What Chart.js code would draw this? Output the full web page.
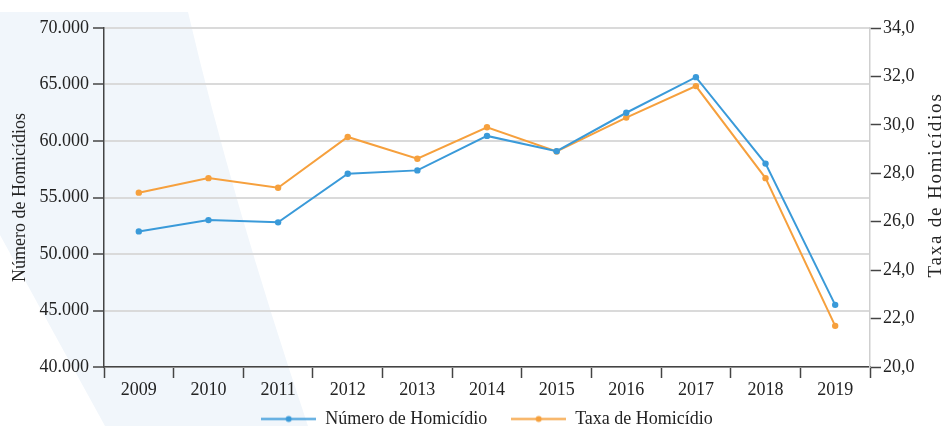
<!DOCTYPE html>
<html lang="pt-BR">
<head>
<meta charset="utf-8">
<title>Homicídios 2009-2019</title>
<script src="https://cdn.jsdelivr.net/npm/chart.js@4.4.1/dist/chart.umd.min.js"></script>
<style>
  html, body { margin: 0; padding: 0; background: #fff; overflow: hidden; }
  #wrap { width: 944px; height: 426px; }
</style>
</head>
<body>
<div id="wrap"><canvas id="homicidios" width="944" height="426"></canvas></div>
<script>
/* Número e taxa de homicídios por ano, dois eixos */

const anos = ["2009", "2010", "2011", "2012", "2013", "2014", "2015", "2016", "2017", "2018", "2019"];
const numeroHomicidios = [52000, 53000, 52800, 57100, 57400, 60450, 59100, 62500, 65650, 58000, 45500];
const taxaHomicidios = [27.2, 27.8, 27.4, 29.5, 28.6, 29.9, 28.9, 30.3, 31.6, 27.8, 21.7];

const ticksNumero = [40000, 45000, 50000, 55000, 60000, 65000, 70000];
const ticksTaxa = [20, 22, 24, 26, 28, 30, 32, 34];

const rotulos = {
  numero: "Número de Homicídio",
  taxa: "Taxa de Homicídio",
  eixoNumero: "Número de Homicídios",
  eixoTaxa: "Taxa de Homicídios",
};

const AZUL = "#3a9ad9";
const LARANJA = "#f6a03d";
const TEXTO = "#232323";
const FONTE = "'Liberation Serif', 'Times New Roman', serif";

Chart.defaults.font.family = FONTE;
Chart.defaults.font.size = 18;
Chart.defaults.color = TEXTO;

function milhar(v) {
  return String(v).replace(/\B(?=(\d{3})+(?!\d))/g, ".");
}

function decimal(v) {
  return Number(v).toFixed(1).replace(".", ",");
}

// marcador da legenda: traço com ponto no meio
function marcador(cor) {
  const c = document.createElement("canvas");
  c.width = 55;
  c.height = 9;
  const g = c.getContext("2d");
  g.strokeStyle = cor;
  g.lineWidth = 2;
  g.beginPath();
  g.moveTo(0, 4.5);
  g.lineTo(55, 4.5);
  g.stroke();
  g.fillStyle = cor;
  g.beginPath();
  g.arc(27.5, 4.5, 3, 0, Math.PI * 2);
  g.fill();
  return c;
}
const marcadores = [marcador(AZUL), marcador(LARANJA)];

// faixa azul clara ao fundo
const faixaFundo = {
  id: "faixaFundo",
  beforeDraw(chart) {
    const ctx = chart.ctx;
    ctx.save();
    ctx.fillStyle = "#f1f6fb";
    ctx.beginPath();
    ctx.moveTo(3, 12);
    ctx.lineTo(188, 12);
    ctx.quadraticCurveTo(232, 200, 308, 426);
    ctx.lineTo(105, 426);
    ctx.lineTo(0, 235);
    ctx.lineTo(0, 12);
    ctx.closePath();
    ctx.fill();
    ctx.restore();
  },
};

// título do eixo direito lido de baixo para cima
const tituloDireito = {
  id: "tituloDireito",
  afterDraw(chart) {
    const ctx = chart.ctx;
    ctx.save();
    ctx.translate(936, 185);
    ctx.rotate(-Math.PI / 2);
    ctx.font = "19px " + FONTE;
    ctx.letterSpacing = "1.8px";
    ctx.fillStyle = TEXTO;
    ctx.textAlign = "center";
    ctx.textBaseline = "middle";
    ctx.fillText(rotulos.eixoTaxa, 0, 0);
    ctx.restore();
  },
};

// legenda mais abaixo e centrada na área do gráfico
const ajusteLegenda = {
  id: "ajusteLegenda",
  afterLayout(chart) {
    const lg = chart.legend;
    if (!lg) return;
    const pad = lg.options.labels.padding;
    lg.top = 419 - pad - 9;
    lg.bottom = chart.height;
    lg.height = lg.bottom - lg.top;
    const dx = (chart.chartArea.left + chart.chartArea.right) / 2 - (lg.left + lg.right) / 2;
    lg.left += dx;
    lg.right += dx;
  },
};

new Chart(document.getElementById("homicidios"), {
  type: "line",
  data: {
    labels: anos,
    datasets: [
      {
        label: rotulos.numero,
        data: numeroHomicidios,
        yAxisID: "yNumero",
        borderColor: AZUL,
        backgroundColor: AZUL,
        borderWidth: 2,
        pointRadius: 3.2,
        pointBorderWidth: 0,
        tension: 0,
      },
      {
        label: rotulos.taxa,
        data: taxaHomicidios,
        yAxisID: "yTaxa",
        borderColor: LARANJA,
        backgroundColor: LARANJA,
        borderWidth: 2,
        pointRadius: 3.2,
        pointBorderWidth: 0,
        tension: 0,
      },
    ],
  },
  options: {
    responsive: false,
    animation: false,
    layout: { padding: { top: 28, left: 0, right: 0, bottom: 0 } },
    scales: {
      x: {
        offset: true,
        afterFit: (s) => { s.height = 39; },
        grid: {
          offset: true,
          drawOnChartArea: false,
          tickLength: 11,
          tickColor: "#444",
          tickWidth: 1.5,
        },
        border: { color: "#444", width: 1.5 },
        ticks: { padding: 1, color: TEXTO, autoSkip: false, maxRotation: 0 },
      },
      yNumero: {
        position: "left",
        min: ticksNumero[0],
        max: ticksNumero[ticksNumero.length - 1],
        afterFit: (s) => { s.width = 104; },
        afterBuildTicks: (s) => { s.ticks = ticksNumero.map((v) => ({ value: v })); },
        grid: {
          color: "#dadada",
          lineWidth: 2,
          tickLength: 11,
          tickColor: "#444",
          tickWidth: 1.5,
        },
        border: { color: "#444", width: 1.5 },
        ticks: { padding: 4, color: TEXTO, callback: (v) => milhar(v) },
        title: {
          display: true,
          text: rotulos.eixoNumero,
          color: TEXTO,
          font: { size: 18 },
          padding: { top: 9, bottom: 0 },
        },
      },
      yTaxa: {
        position: "right",
        min: ticksTaxa[0],
        max: ticksTaxa[ticksTaxa.length - 1],
        afterFit: (s) => { s.width = 74; },
        afterBuildTicks: (s) => { s.ticks = ticksTaxa.map((v) => ({ value: v })); },
        grid: {
          drawOnChartArea: false,
          tickLength: 11,
          tickColor: "#444",
          tickWidth: 1.5,
        },
        border: { color: "#cfcfcf", width: 1.5 },
        ticks: { padding: 2, color: TEXTO, callback: (v) => decimal(v) },
        title: { display: false },
      },
    },
    plugins: {
      tooltip: { enabled: false },
      legend: {
        position: "bottom",
        maxHeight: 20,
        labels: {
          color: TEXTO,
          padding: 24,
          usePointStyle: true,
          pointStyleWidth: 55,
          font: { size: 18 },
          generateLabels(chart) {
            const itens = Chart.defaults.plugins.legend.labels.generateLabels(chart);
            itens.forEach((it, i) => { it.pointStyle = marcadores[i]; });
            return itens;
          },
        },
      },
    },
  },
  plugins: [faixaFundo, tituloDireito, ajusteLegenda],
});
</script>
</body>
</html>
